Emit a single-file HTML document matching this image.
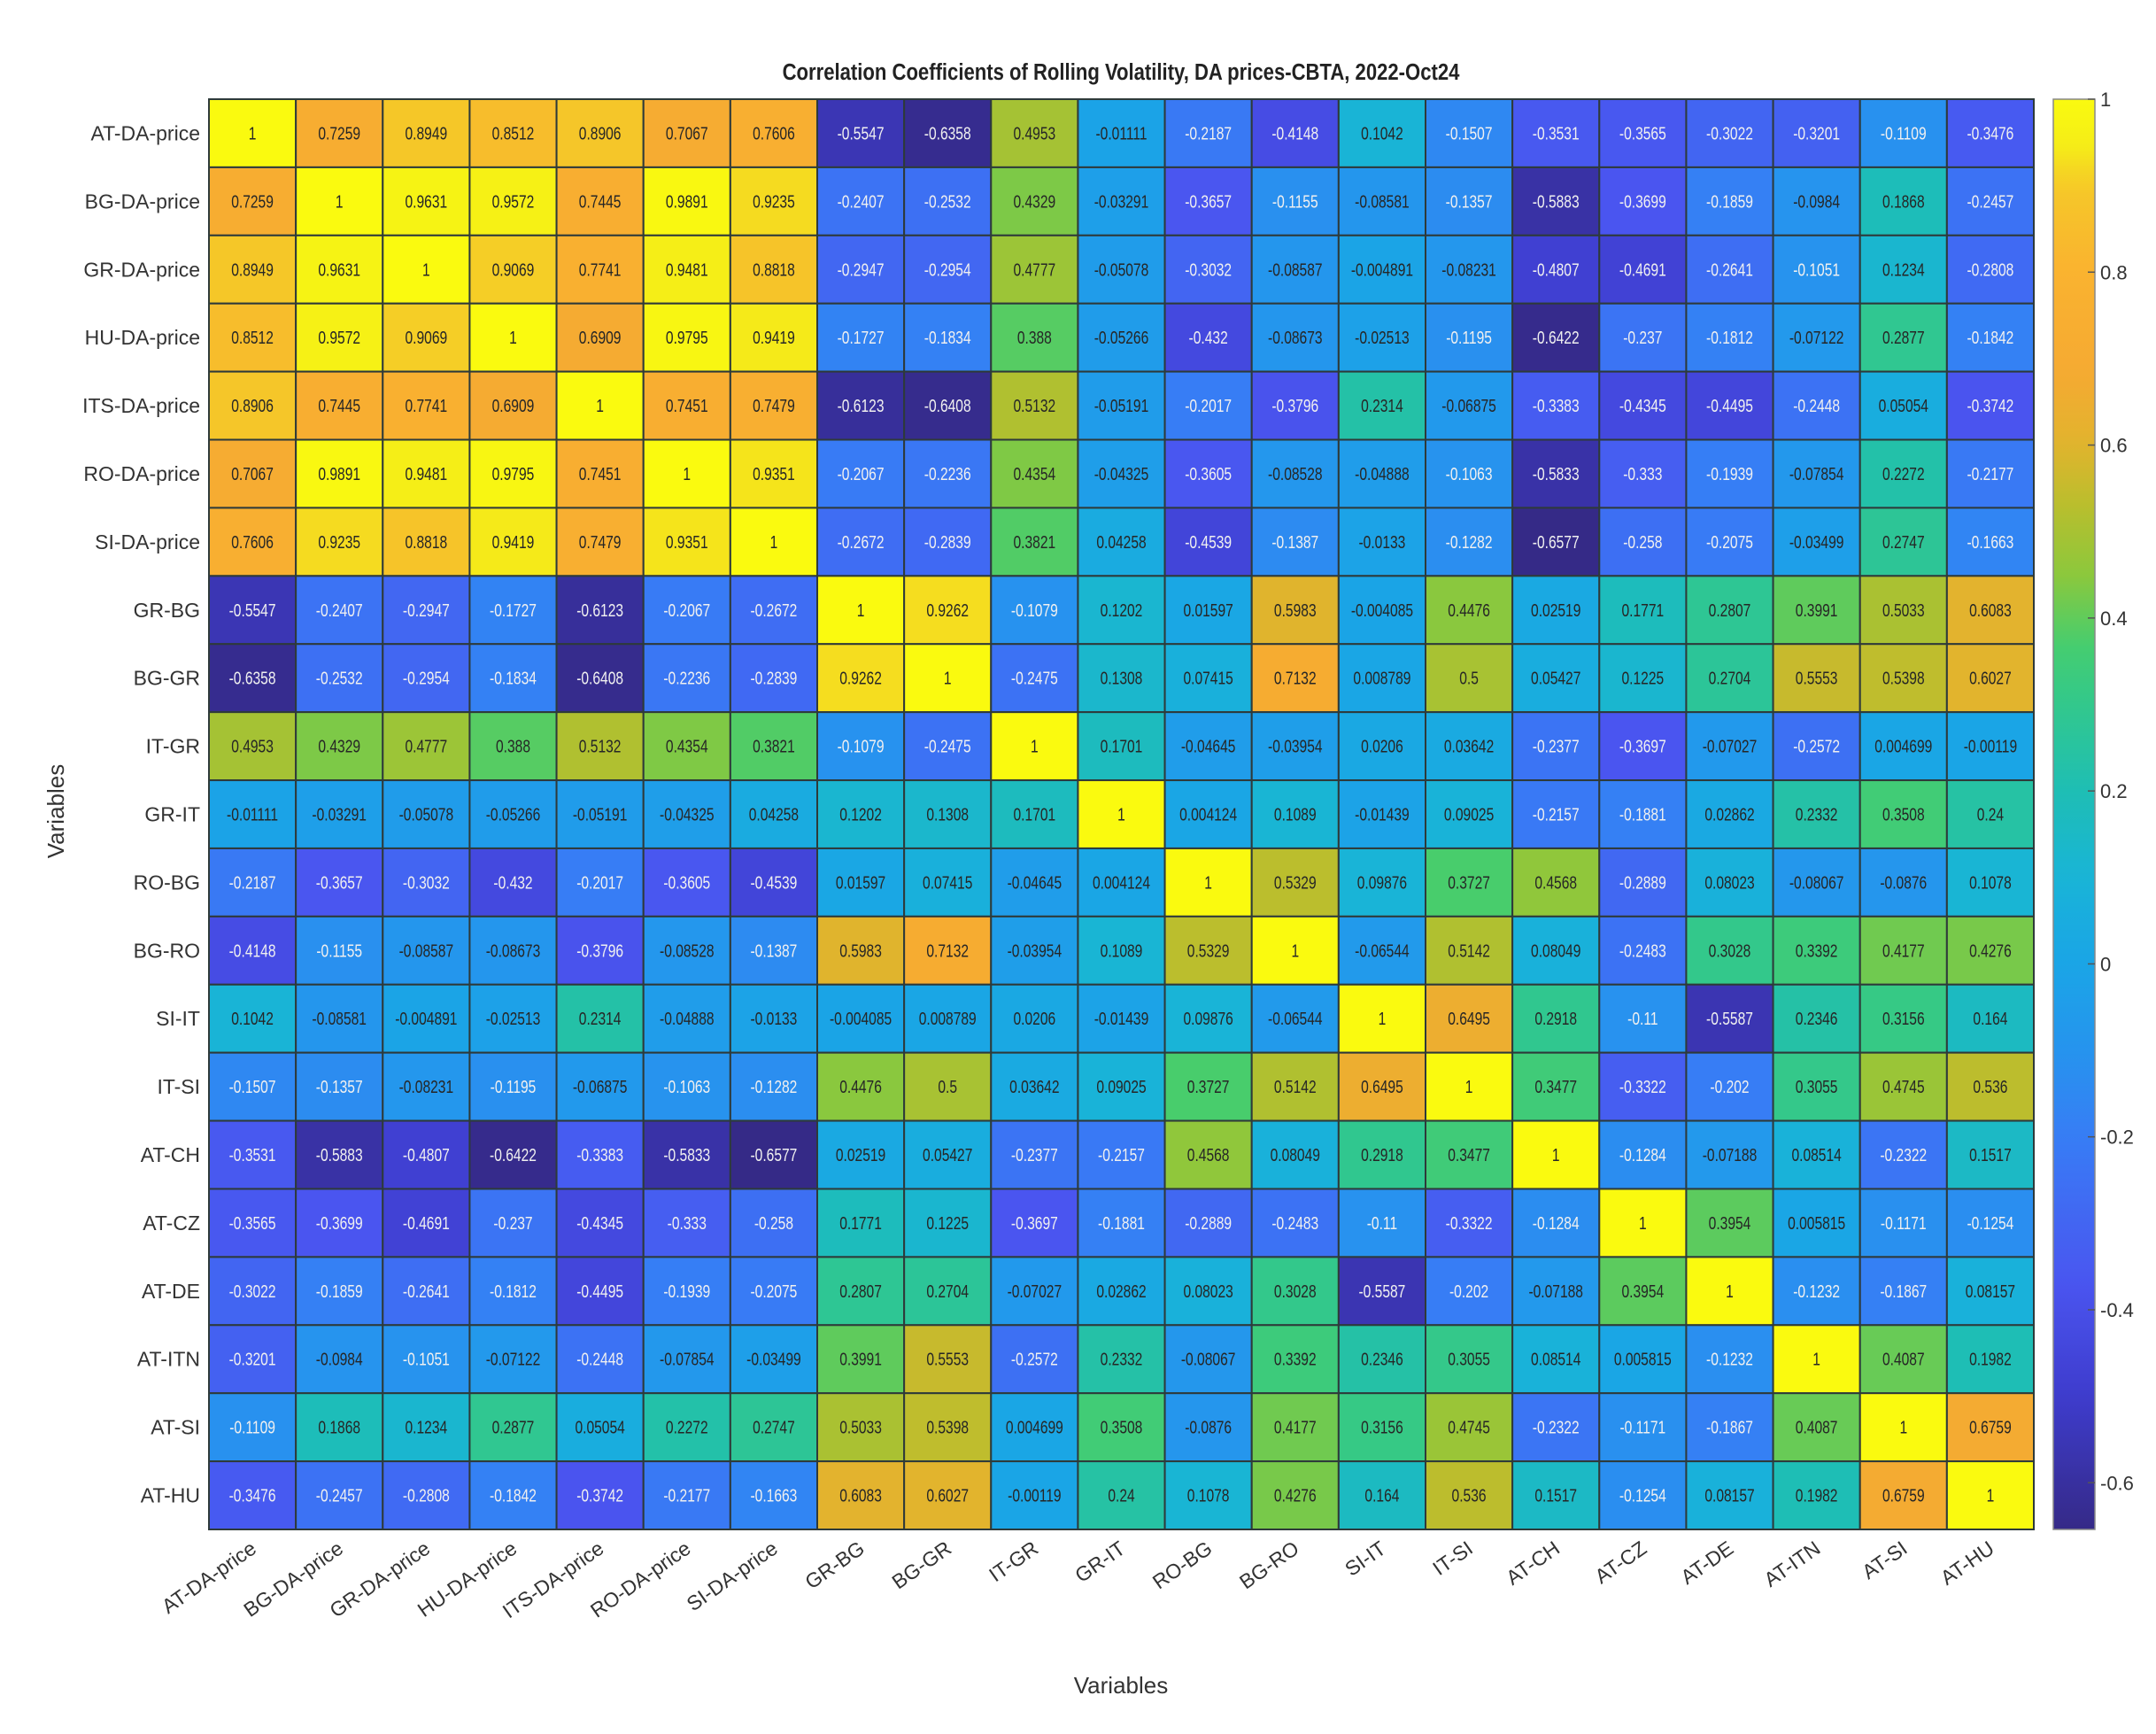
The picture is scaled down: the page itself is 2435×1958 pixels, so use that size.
<!DOCTYPE html>
<html><head><meta charset="utf-8">
<style>
html,body{margin:0;padding:0;background:#fff;}
svg{display:block;font-family:"Liberation Sans",Arial,sans-serif;}
</style></head>
<body>
<svg id="chart" width="2435" height="1958" viewBox="0 0 2435 1958">
<text x="1266" y="90" text-anchor="middle" font-size="26" font-weight="bold" fill="#222" transform="translate(1266 0) scale(0.85 1) translate(-1266 0)">Correlation Coefficients of Rolling Volatility, DA prices-CBTA, 2022-Oct24</text>
<text x="1266" y="1912" text-anchor="middle" font-size="26" fill="#333">Variables</text>
<text x="0" y="0" text-anchor="middle" font-size="26" fill="#333" transform="translate(72 916) rotate(-90)">Variables</text>
<g id="cells"></g>
<g id="rowlabels"></g>
<g id="collabels"></g>
<g id="cbar"></g>
</svg>
<script>
const labels = ["AT-DA-price","BG-DA-price","GR-DA-price","HU-DA-price","ITS-DA-price","RO-DA-price","SI-DA-price","GR-BG","BG-GR","IT-GR","GR-IT","RO-BG","BG-RO","SI-IT","IT-SI","AT-CH","AT-CZ","AT-DE","AT-ITN","AT-SI","AT-HU"];
// upper triangle rows (starting at the diagonal)
const upper = [
[1,0.7259,0.8949,0.8512,0.8906,0.7067,0.7606,-0.5547,-0.6358,0.4953,-0.01111,-0.2187,-0.4148,0.1042,-0.1507,-0.3531,-0.3565,-0.3022,-0.3201,-0.1109,-0.3476],
[1,0.9631,0.9572,0.7445,0.9891,0.9235,-0.2407,-0.2532,0.4329,-0.03291,-0.3657,-0.1155,-0.08581,-0.1357,-0.5883,-0.3699,-0.1859,-0.0984,0.1868,-0.2457],
[1,0.9069,0.7741,0.9481,0.8818,-0.2947,-0.2954,0.4777,-0.05078,-0.3032,-0.08587,-0.004891,-0.08231,-0.4807,-0.4691,-0.2641,-0.1051,0.1234,-0.2808],
[1,0.6909,0.9795,0.9419,-0.1727,-0.1834,0.388,-0.05266,-0.432,-0.08673,-0.02513,-0.1195,-0.6422,-0.237,-0.1812,-0.07122,0.2877,-0.1842],
[1,0.7451,0.7479,-0.6123,-0.6408,0.5132,-0.05191,-0.2017,-0.3796,0.2314,-0.06875,-0.3383,-0.4345,-0.4495,-0.2448,0.05054,-0.3742],
[1,0.9351,-0.2067,-0.2236,0.4354,-0.04325,-0.3605,-0.08528,-0.04888,-0.1063,-0.5833,-0.333,-0.1939,-0.07854,0.2272,-0.2177],
[1,-0.2672,-0.2839,0.3821,0.04258,-0.4539,-0.1387,-0.0133,-0.1282,-0.6577,-0.258,-0.2075,-0.03499,0.2747,-0.1663],
[1,0.9262,-0.1079,0.1202,0.01597,0.5983,-0.004085,0.4476,0.02519,0.1771,0.2807,0.3991,0.5033,0.6083],
[1,-0.2475,0.1308,0.07415,0.7132,0.008789,0.5,0.05427,0.1225,0.2704,0.5553,0.5398,0.6027],
[1,0.1701,-0.04645,-0.03954,0.0206,0.03642,-0.2377,-0.3697,-0.07027,-0.2572,0.004699,-0.00119],
[1,0.004124,0.1089,-0.01439,0.09025,-0.2157,-0.1881,0.02862,0.2332,0.3508,0.24],
[1,0.5329,0.09876,0.3727,0.4568,-0.2889,0.08023,-0.08067,-0.0876,0.1078],
[1,-0.06544,0.5142,0.08049,-0.2483,0.3028,0.3392,0.4177,0.4276],
[1,0.6495,0.2918,-0.11,-0.5587,0.2346,0.3156,0.164],
[1,0.3477,-0.3322,-0.202,0.3055,0.4745,0.536],
[1,-0.1284,-0.07188,0.08514,-0.2322,0.1517],
[1,0.3954,0.005815,-0.1171,-0.1254],
[1,-0.1232,-0.1867,0.08157],
[1,0.4087,0.1982],
[1,0.6759],
[1]
];
const cbarTicks = [1,0.8,0.6,0.4,0.2,0,-0.2,-0.4,-0.6];
const cmin = -0.654, cmax = 1;

const NS = "http://www.w3.org/2000/svg";
const L = 236, R = 2297, T = 112, B = 1727;
const n = labels.length;
const cw = (R - L) / n, ch = (B - T) / n;
const xPos = i => L + i * cw;
const yPos = j => T + j * ch;
const stops = [[-0.654,[53,42,135]],[-0.5,[62,60,205]],[-0.37,[74,85,240]],[-0.2,[55,125,245]],[-0.1,[38,148,238]],[0,[26,165,230]],[0.1,[25,180,215]],[0.2,[30,190,180]],[0.3,[50,200,140]],[0.37,[70,205,110]],[0.45,[140,200,60]],[0.53,[185,190,45]],[0.6,[225,180,45]],[0.68,[245,170,50]],[0.8,[250,178,48]],[0.9,[245,200,40]],[0.95,[245,240,22]],[1,[250,250,15]]];
function cmap(v){
  v = Math.max(cmin, Math.min(cmax, v));
  for (let k = 1; k < stops.length; k++) {
    if (v <= stops[k][0]) {
      const a = stops[k-1], b = stops[k], f = (v - a[0]) / (b[0] - a[0]);
      const c = a[1].map((x, i) => Math.round(x + (b[1][i] - x) * f));
      return `rgb(${c[0]},${c[1]},${c[2]})`;
    }
  }
  return "rgb(250,250,15)";
}
function el(tag, attrs, parent){ const e = document.createElementNS(NS, tag); for (const k in attrs) e.setAttribute(k, attrs[k]); parent.appendChild(e); return e; }
const M = [];
for (let i = 0; i < n; i++) { M.push(new Array(n)); }
for (let i = 0; i < n; i++) for (let k = 0; k < upper[i].length; k++) { const j = i + k; M[i][j] = upper[i][k]; M[j][i] = upper[i][k]; }

const cells = document.getElementById('cells');
for (let r = 0; r < n; r++) for (let c = 0; c < n; c++) {
  const v = M[r][c];
  const rect = el('rect', {x: xPos(c), y: yPos(r), width: cw, height: ch, fill: cmap(v), stroke: '#2e3a3a', 'stroke-width': 2}, cells);
  
  
  const tx = el('text', {x: xPos(c) + cw/2, y: yPos(r) + ch/2 + 7, 'text-anchor': 'middle', 'font-size': 20, fill: v < -0.1 ? '#f0f0f0' : '#262626', transform: `translate(${xPos(c)+cw/2} 0) scale(0.78 1) translate(${-(xPos(c)+cw/2)} 0)`}, cells);
  tx.textContent = String(Number(v.toPrecision(4)));
  
  
}
const rl = document.getElementById('rowlabels');
labels.forEach((lab, j) => {
  const t = el('text', {x: 226, y: yPos(j) + ch/2 + 8, 'text-anchor': 'end', 'font-size': 23, fill: '#333'}, rl);
  t.textContent = lab;
  
  
});
const cl = document.getElementById('collabels');
labels.forEach((lab, i) => {
  const cx = xPos(i) + cw/2 + 6;
  const t = el('text', {x: 0, y: 0, 'text-anchor': 'end', 'font-size': 23, fill: '#333', transform: `translate(${cx} 1752) rotate(-35)`}, cl);
  t.textContent = lab;
  
  
});
const cb = document.getElementById('cbar');
const cbL = 2319, cbW = 47;
const vy = v => T + (cmax - v) / (cmax - cmin) * (B - T);
const defs = el('defs', {}, cb);
const grad = el('linearGradient', {id: 'cbg', x1: 0, y1: 0, x2: 0, y2: 1}, defs);
for (let k = 0; k <= 60; k++) { const v = cmax - (cmax - cmin) * k / 60; el('stop', {offset: (k/60), 'stop-color': cmap(v)}, grad); }
const cbr = el('rect', {x: cbL, y: T, width: cbW, height: B - T, fill: 'url(#cbg)', stroke: '#888', 'stroke-width': 1.5}, cb);


cbarTicks.forEach(v => {
  const y = vy(v);
  el('line', {x1: cbL + cbW - 8, x2: cbL + cbW, y1: y, y2: y, stroke: '#555', 'stroke-width': 1.5}, cb);
  const t = el('text', {x: cbL + cbW + 6, y: y + 8, 'font-size': 22, fill: '#333'}, cb);
  t.textContent = String(v);
  
  
});
</script>
</body></html>
